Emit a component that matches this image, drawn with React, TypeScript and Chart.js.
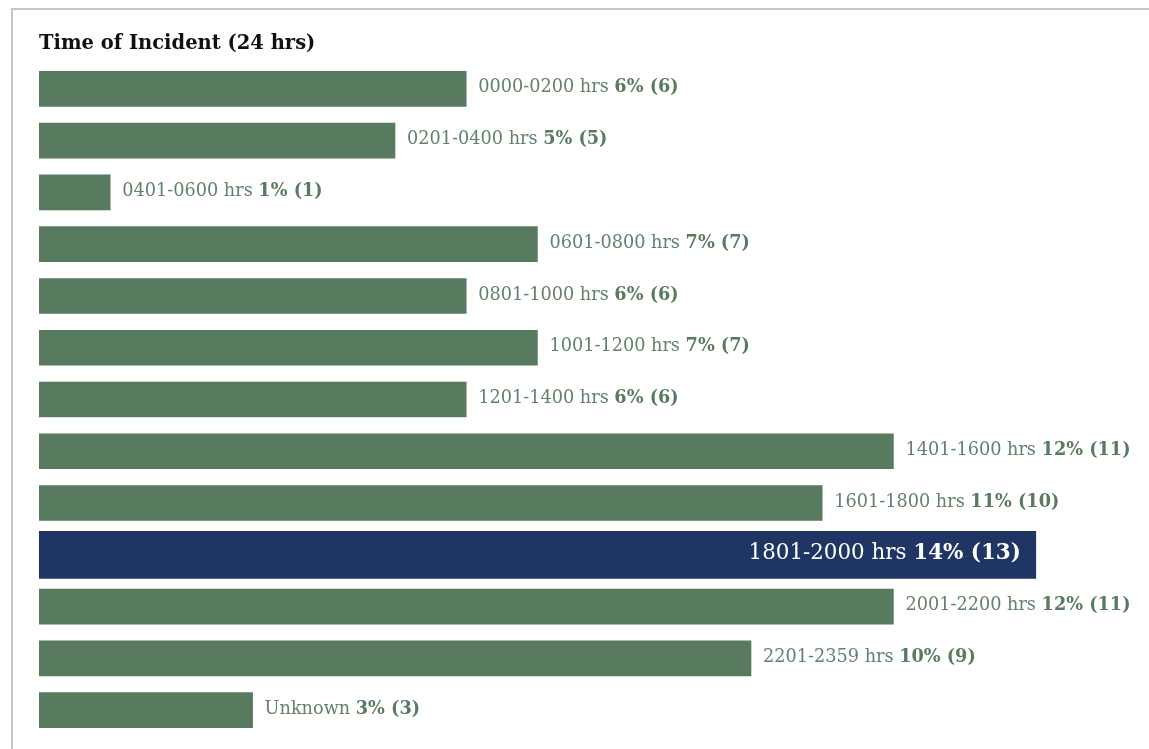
import React, { useEffect, useRef } from "react";
import { Chart, registerables } from "chart.js";

Chart.register(...registerables);

const categories = [
  "0000-0200 hrs",
  "0201-0400 hrs",
  "0401-0600 hrs",
  "0601-0800 hrs",
  "0801-1000 hrs",
  "1001-1200 hrs",
  "1201-1400 hrs",
  "1401-1600 hrs",
  "1601-1800 hrs",
  "1801-2000 hrs",
  "2001-2200 hrs",
  "2201-2359 hrs",
  "Unknown",
];
const percents = [6, 5, 1, 7, 6, 7, 6, 12, 11, 14, 12, 10, 3];
const counts = [6, 5, 1, 7, 6, 7, 6, 11, 10, 13, 11, 9, 3];
const titleText = "Time of Incident (24 hrs)";

const GREEN = "#587a5e";
const GREEN_TEXT = "#62826a";
const NAVY = "#1f3564";
const FONT = "'DejaVu Serif', serif";

const highlightIndex = percents.indexOf(Math.max(...percents));

const labelPlugin = {
  id: "barLabels",
  afterDatasetsDraw(chart: any) {
    const ctx = chart.ctx;
    ctx.save();
    ctx.textBaseline = "middle";
    categories.forEach((cat, i) => {
      const dsIndex = i === highlightIndex ? 1 : 0;
      const el = chart.getDatasetMeta(dsIndex).data[i];
      if (!el) return;
      const reg = cat + " ";
      const bold = `${percents[i]}% (${counts[i]})`;
      if (i === highlightIndex) {
        const size = 21.4;
        ctx.font = `bold ${size}px ${FONT}`;
        const wb = ctx.measureText(bold).width;
        ctx.font = `${size}px ${FONT}`;
        const wr = ctx.measureText(reg).width;
        const xEnd = el.x - 15;
        const y = el.y - 1;
        ctx.fillStyle = "#ffffff";
        ctx.textAlign = "left";
        ctx.font = `${size}px ${FONT}`;
        ctx.fillText(reg, xEnd - wb - wr, y);
        ctx.font = `bold ${size}px ${FONT}`;
        ctx.fillText(bold, xEnd - wb, y);
      } else {
        const size = 17.7;
        const x0 = el.x + 12;
        const y = el.y - 1;
        ctx.textAlign = "left";
        ctx.font = `${size}px ${FONT}`;
        ctx.fillStyle = GREEN_TEXT;
        ctx.fillText(reg, x0, y);
        const wr = ctx.measureText(reg).width;
        ctx.font = `bold ${size}px ${FONT}`;
        ctx.fillStyle = GREEN;
        ctx.fillText(bold, x0 + wr, y);
      }
    });
    ctx.restore();
  },
};

export default function App() {
  const canvasRef = useRef<HTMLCanvasElement>(null);

  useEffect(() => {
    if (!canvasRef.current) return;
    const normalData = percents.map((v, i) => (i === highlightIndex ? null : v));
    const highlightData = percents.map((v, i) => (i === highlightIndex ? v : null));
    const chart = new Chart(canvasRef.current, {
      type: "bar",
      data: {
        labels: categories,
        datasets: [
          {
            data: normalData,
            backgroundColor: GREEN,
            barThickness: 35,
            grouped: false,
          } as any,
          {
            data: highlightData,
            backgroundColor: NAVY,
            barThickness: 47,
            grouped: false,
          } as any,
        ],
      },
      options: {
        indexAxis: "y",
        animation: false,
        responsive: true,
        maintainAspectRatio: false,
        layout: { padding: { left: 26, right: 42, top: 0, bottom: 13 } },
        scales: {
          x: { display: false, min: 0, max: 15 },
          y: { display: false },
        },
        plugins: {
          legend: { display: false },
          tooltip: { enabled: false },
          title: {
            display: true,
            text: titleText,
            align: "start",
            color: "#111111",
            font: { family: FONT, size: 19.5, weight: "bold", lineHeight: 1.2 },
            padding: { top: 21.8, bottom: 7.8 },
          },
        },
      },
      plugins: [labelPlugin],
    });
    return () => chart.destroy();
  }, []);

  return (
    <div
      style={{
        position: "absolute",
        left: 11,
        top: 8,
        width: 1138,
        height: 741,
        borderTop: "2px solid #c3c7c0",
        borderLeft: "2px solid #c3c7c0",
        background: "#ffffff",
      }}
    >
      <div style={{ position: "absolute", left: 0, top: 0, width: 1136, height: 739 }}>
        <canvas ref={canvasRef} />
      </div>
    </div>
  );
}
